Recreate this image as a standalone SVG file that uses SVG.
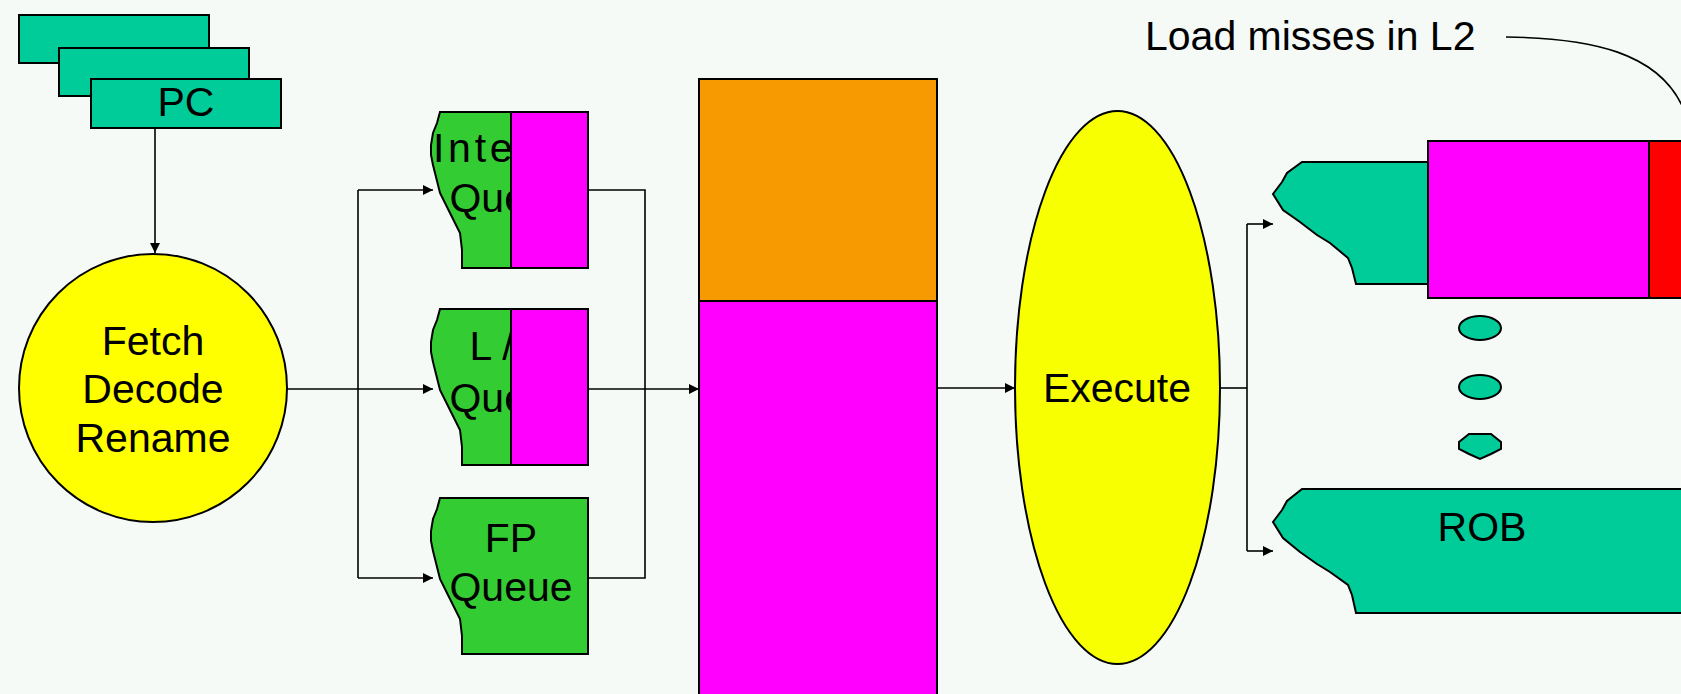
<svg xmlns="http://www.w3.org/2000/svg" width="1681" height="694" viewBox="0 0 1681 694">
  <style>
    .bg { fill: #f5faf7; }
    .teal { fill: #00cc99; stroke: #000; stroke-width: 2; }
    .green { fill: #33cc33; stroke: #000; stroke-width: 2; }
    .mag { fill: #ff00ff; stroke: #000; stroke-width: 2; }
    .orange { fill: #f79900; stroke: #000; stroke-width: 2; }
    .red { fill: #ff0000; stroke: #000; stroke-width: 2; }
    .yellow { fill: #ffff00; stroke: #000; stroke-width: 2; }
    .yellow2 { fill: #f7ff00; stroke: #000; stroke-width: 2; }
    .wire { fill: none; stroke: #000; stroke-width: 1.6; }
    .lbl { font-family: "Liberation Sans", Arial, sans-serif; font-size: 41px; fill: #000; }
    .mid { text-anchor: middle; }
  </style>
  <defs>
    <marker id="ah" viewBox="0 0 10 10" refX="10" refY="5" markerWidth="10" markerHeight="10" markerUnits="userSpaceOnUse" orient="auto">
      <path d="M0,0 L10,5 L0,10 Z" fill="#000"/>
    </marker>
    <!-- queue outline with the rounded left cut, origin at (400, top) -->
    <path id="qshape" d="M40,0 L188,0 L188,156 L62,156 L62,138 L60,121 L50,101 L40,81 L33,53 L31,43 L31,33 L33,21 L37,11 Z"/>
  </defs>

  <rect class="bg" x="0" y="0" width="1681" height="694"/>

  <!-- program counters -->
  <g id="pc">
    <rect class="teal" x="19" y="15" width="190" height="48"/>
    <rect class="teal" x="59" y="48" width="190" height="48"/>
    <rect class="teal" x="91" y="79" width="190" height="49"/>
    <text class="lbl mid" x="186" y="116" font-size="38">PC</text>
  </g>

  <!-- front end -->
  <g id="fetch">
    <circle class="yellow" cx="153" cy="388" r="134"/>
    <text class="lbl mid" x="153" y="355">Fetch</text>
    <text class="lbl mid" x="153" y="403">Decode</text>
    <text class="lbl mid" x="153" y="452">Rename</text>
  </g>

  <!-- issue queues -->
  <g id="int-queue">
    <use href="#qshape" x="400" y="112" class="green"/>
    <text class="lbl" x="433" y="162" textLength="150" lengthAdjust="spacing">Integer</text>
    <text class="lbl mid" x="511" y="212">Queue</text>
    <rect class="mag" x="511" y="112" width="77" height="156"/>
  </g>
  <g id="ls-queue">
    <use href="#qshape" x="400" y="309" class="green"/>
    <text class="lbl mid" x="511" y="360">L / S</text>
    <text class="lbl mid" x="511" y="412">Queue</text>
    <rect class="mag" x="511" y="309" width="77" height="156"/>
  </g>
  <g id="fp-queue">
    <use href="#qshape" x="400" y="498" class="green"/>
    <text class="lbl mid" x="511" y="552">FP</text>
    <text class="lbl mid" x="511" y="601">Queue</text>
  </g>

  <!-- register file -->
  <g id="regfile">
    <rect class="mag" x="699" y="79" width="238" height="630"/>
    <rect class="orange" x="699" y="79" width="238" height="222"/>
  </g>

  <!-- execution units -->
  <g id="execute">
    <ellipse class="yellow2" cx="1117.5" cy="387.5" rx="102.5" ry="276.5"/>
    <text class="lbl mid" x="1117" y="402">Execute</text>
  </g>

  <!-- reorder buffers -->
  <g id="rob-top">
    <path class="teal" d="M1302,162 L1430,162 L1430,284 L1356,284 L1352,268 L1348,258 L1330,243 L1317,235 L1300,222 L1283,210 L1273,194 L1282,182 L1287,173 Z"/>
    <rect class="mag" x="1428" y="141" width="221" height="157"/>
    <rect class="red" x="1649" y="141" width="40" height="157"/>
  </g>
  <g id="rob-dots">
    <ellipse class="teal" cx="1480" cy="328" rx="21" ry="12" stroke-width="1.5"/>
    <ellipse class="teal" cx="1480" cy="387" rx="21" ry="12" stroke-width="1.5"/>
    <path class="teal" stroke-width="1.5" d="M1469,434 L1491,434 L1501,442 L1501,449 L1491,454 L1480,459 L1469,454 L1459,449 L1459,442 Z"/>
  </g>
  <g id="rob">
    <path class="teal" d="M1302,489 L1690,489 L1690,613 L1356,613 L1352,595 L1348,585 L1330,572 L1317,564 L1300,552 L1283,538 L1273,522 L1282,510 L1287,501 Z"/>
    <text class="lbl mid" x="1482" y="541">ROB</text>
  </g>

  <!-- annotation -->
  <g id="note">
    <text class="lbl" x="1145" y="50" font-size="42">Load misses in L2</text>
    <path class="wire" d="M1506,37 C1590,38 1660,52 1684,110"/>
  </g>

  <!-- connectors -->
  <g id="connectors">
    <path class="wire" d="M155,128 L155,253" marker-end="url(#ah)"/>
    <path class="wire" d="M287,389 L433,389" marker-end="url(#ah)"/>
    <path class="wire" d="M358,190 L358,578"/>
    <path class="wire" d="M358,190 L433,190" marker-end="url(#ah)"/>
    <path class="wire" d="M358,578 L433,578" marker-end="url(#ah)"/>
    <path class="wire" d="M588,190 L645,190 L645,578 L588,578"/>
    <path class="wire" d="M588,389 L699,389" marker-end="url(#ah)"/>
    <path class="wire" d="M937,388 L1015,388" marker-end="url(#ah)"/>
    <path class="wire" d="M1220,388 L1247,388"/>
    <path class="wire" d="M1247,224 L1247,551"/>
    <path class="wire" d="M1247,224 L1273,224" marker-end="url(#ah)"/>
    <path class="wire" d="M1247,551 L1273,551" marker-end="url(#ah)"/>
  </g>
</svg>
